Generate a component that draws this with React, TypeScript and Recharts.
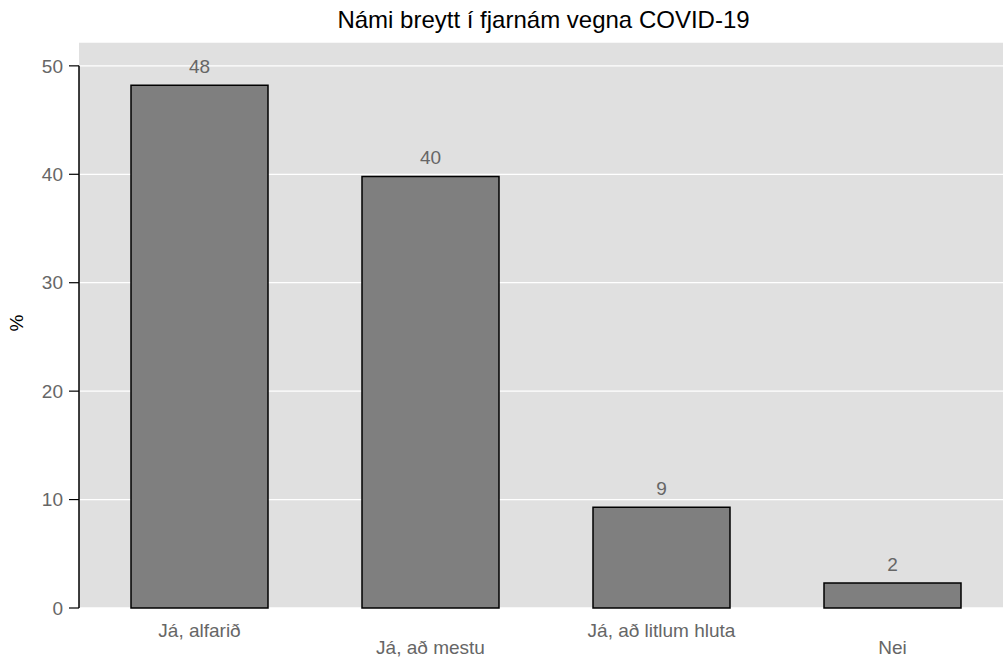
import React from 'react';
import {
  BarChart,
  Bar,
  XAxis,
  YAxis,
  CartesianGrid,
  LabelList,
  ReferenceLine,
} from 'recharts';

const categories = ['Já, alfarið', 'Já, að mestu', 'Já, að litlum hluta', 'Nei'];
const percents = [48.2, 39.8, 9.3, 2.3];
const percentLabels = ['48', '40', '9', '2'];
const yTicks = [0, 10, 20, 30, 40, 50];

const data = categories.map((name, i) => ({
  name,
  value: percents[i],
  label: percentLabels[i],
}));

const FONT = '"Liberation Sans", Arial, sans-serif';

// ggplot-style dodged labels: every other label drops down one row
function StaggeredTick(props: any) {
  const { x, y, payload, index } = props;
  const dy = index % 2 === 1 ? 38 : 21;
  return (
    <text
      x={x}
      y={y + dy}
      textAnchor="middle"
      fill="#666666"
      fontSize={19}
      fontFamily={FONT}
    >
      {payload.value}
    </text>
  );
}

export default function App() {
  return (
    <div
      style={{
        position: 'absolute',
        left: 0,
        top: 0,
        width: 1003,
        height: 660,
        overflow: 'hidden',
        fontFamily: FONT,
      }}
    >
      <div
        style={{
          position: 'absolute',
          left: 79,
          width: 929,
          top: 6,
          textAlign: 'center',
          fontSize: 24,
          color: '#000',
        }}
      >
        Námi breytt í fjarnám vegna COVID-19
      </div>
      <div
        style={{
          position: 'absolute',
          left: 9,
          top: 312,
          fontSize: 19,
          color: '#000',
          transform: 'rotate(-90deg)',
        }}
      >
        %
      </div>
      <BarChart
        width={1008}
        height={660}
        data={data}
        margin={{ top: 42, right: 0, left: 0, bottom: 0 }}
        barCategoryGap={47}
      >
        <CartesianGrid vertical={false} stroke="#ffffff" strokeWidth={1.3} fill="#e0e0e0" />
        <XAxis
          dataKey="name"
          axisLine={false}
          tickLine={false}
          interval={0}
          tick={<StaggeredTick />}
          height={52}
          padding={{ left: 5, right: 0 }}
        />
        <XAxis xAxisId="num" type="number" domain={[0, 4]} hide />
        <YAxis
          domain={[0, 52.2]}
          ticks={yTicks}
          width={79}
          axisLine={false}
          tickSize={10}
          tickLine={{ stroke: '#000', strokeWidth: 1.2 }}
          tickMargin={6}
          tick={{ fill: '#666666', fontSize: 19, fontFamily: FONT }}
        />
        <ReferenceLine
          xAxisId="num"
          segment={[
            { x: 0, y: 0 },
            { x: 0, y: 50 },
          ]}
          stroke="#000"
          strokeWidth={1.5}
          ifOverflow="visible"
        />
        <Bar dataKey="value" fill="#7f7f7f" stroke="#000" strokeWidth={1.5} isAnimationActive={false}>
          <LabelList
            dataKey="label"
            position="top"
            offset={12}
            fill="#666666"
            fontSize={19}
            fontFamily={FONT}
          />
        </Bar>
      </BarChart>
    </div>
  );
}
